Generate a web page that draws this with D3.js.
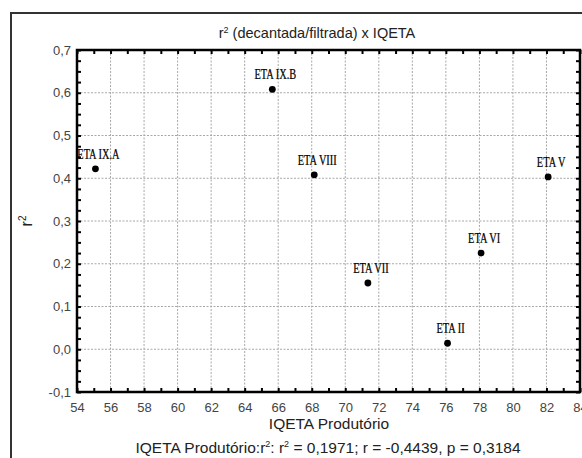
<!DOCTYPE html>
<html><head><meta charset="utf-8">
<script src="https://cdn.jsdelivr.net/npm/d3@7/dist/d3.min.js"></script>
<style>
html,body{margin:0;padding:0;background:#fff;overflow:hidden;}
svg{display:block;}
</style></head>
<body>
<script>
const stations = ["ETA IX.A","ETA IX.B","ETA VIII","ETA V","ETA VI","ETA VII","ETA II"];
const iqeta    = [55.1, 65.65, 68.15, 82.1, 78.1, 71.35, 76.1];
const r2vals   = [0.422, 0.608, 0.408, 0.403, 0.225, 0.155, 0.014];
const xTickVals = d3.range(54, 85, 2);
const yTickVals = [-0.1,0,0.1,0.2,0.3,0.4,0.5,0.6,0.7];

const W = 582, H = 458;
const m = {left:77, top:50, right:580, bottom:392};
const svg = d3.select("body").append("svg").attr("width",W).attr("height",H);
const loc = d3.formatLocale({decimal:",", thousands:".", grouping:[3], currency:["",""], minus:"-"});
const fy = loc.format(".1f");

const x = d3.scaleLinear().domain([54,84]).range([m.left, m.right]);
const y = d3.scaleLinear().domain([-0.1,0.7]).range([m.bottom, m.top]);

// outer frame
svg.append("rect").attr("x",11).attr("y",13).attr("width",W+20).attr("height",H+20)
  .attr("fill","none").attr("stroke","#333").attr("stroke-width",2);

// title
const t = svg.append("text").attr("x",317).attr("y",38).attr("text-anchor","middle")
  .attr("font-family","Liberation Sans, Arial, sans-serif").attr("font-size",14.5).attr("fill","#222");
t.append("tspan").text("r");
t.append("tspan").attr("dy",-5).attr("font-size",9).text("2");
t.append("tspan").attr("dy",5).text(" (decantada/filtrada) x IQETA");

// grid
const grid = svg.append("g").attr("stroke","#a8a8a8").attr("stroke-width",1).attr("stroke-dasharray","2,1.5");
xTickVals.filter(v=>v>54 && v<84).forEach(v=>{
  grid.append("line").attr("x1",x(v)).attr("x2",x(v)).attr("y1",m.top).attr("y2",m.bottom);
});
yTickVals.filter(v=>v>-0.1 && v<0.7).forEach(v=>{
  grid.append("line").attr("x1",m.left).attr("x2",m.right).attr("y1",y(v)).attr("y2",y(v));
});

// axes via d3
const xb = d3.axisBottom(x).tickValues(d3.range(54,85,1)).tickSize(-4).tickFormat("");
const xt = d3.axisTop(x).tickValues(d3.range(54,85,1)).tickSize(-4).tickFormat("");
const yl = d3.axisLeft(y).tickValues(d3.range(0,33).map(i=>-0.1+i*0.025)).tickSize(-4).tickFormat("");
const yr = d3.axisRight(y).tickValues(d3.range(0,33).map(i=>-0.1+i*0.025)).tickSize(-4).tickFormat("");
function styleAx(g){ g.selectAll(".domain").remove(); g.selectAll("line").attr("stroke","#000").attr("stroke-width",2); }
svg.append("g").attr("transform",`translate(0,${m.bottom})`).call(xb).call(styleAx);
svg.append("g").attr("transform",`translate(0,${m.top})`).call(xt).call(styleAx);
svg.append("g").attr("transform",`translate(${m.left},0)`).call(yl).call(styleAx);
svg.append("g").attr("transform",`translate(${m.right},0)`).call(yr).call(styleAx);

// tick labels
const xl = d3.axisBottom(x).tickValues(xTickVals).tickSize(0).tickPadding(11).tickFormat(d3.format("d"));
const gx = svg.append("g").attr("transform",`translate(0,${m.bottom})`).call(xl);
gx.select(".domain").remove();
gx.selectAll("text").attr("font-family","Liberation Sans, Arial, sans-serif").attr("font-size",13).attr("fill","#444");
const ylab = d3.axisLeft(y).tickValues(yTickVals).tickSize(0).tickPadding(6).tickFormat(fy);
const gy = svg.append("g").attr("transform",`translate(${m.left},0)`).call(ylab);
gy.select(".domain").remove();
gy.selectAll("text").attr("font-family","Liberation Sans, Arial, sans-serif").attr("font-size",13).attr("fill","#444");

// frame of plot
svg.append("rect").attr("x",m.left).attr("y",m.top).attr("width",m.right-m.left).attr("height",m.bottom-m.top)
  .attr("fill","none").attr("stroke","#000").attr("stroke-width",2.5);

// axis labels
svg.append("text").attr("x",329).attr("y",429).attr("text-anchor","middle")
  .attr("font-family","Liberation Sans, Arial, sans-serif").attr("font-size",15.5).attr("fill","#222")
  .text("IQETA Produtório");
const ya = svg.append("text").attr("transform","translate(32,221) rotate(-90)").attr("text-anchor","middle")
  .attr("font-family","Liberation Sans, Arial, sans-serif").attr("font-size",16).attr("fill","#222");
ya.append("tspan").text("r");
ya.append("tspan").attr("dy",-6).attr("font-size",10).text("2");

const st = svg.append("text").attr("x",328).attr("y",453).attr("text-anchor","middle")
  .attr("font-family","Liberation Sans, Arial, sans-serif").attr("font-size",15.5).attr("fill","#222");
st.append("tspan").text("IQETA Produtório:r");
st.append("tspan").attr("dy",-6).attr("font-size",9).text("2");
st.append("tspan").attr("dy",6).text(": r");
st.append("tspan").attr("dy",-6).attr("font-size",9).text("2");
st.append("tspan").attr("dy",6).text(" = 0,1971; r = -0,4439, p = 0,3184");

// points
const data = stations.map((s,i)=>({s, x:iqeta[i], y:r2vals[i]}));
svg.append("g").selectAll("circle").data(data).join("circle")
  .attr("cx",d=>x(d.x)).attr("cy",d=>y(d.y)).attr("r",3.4).attr("fill","#000");
svg.append("g").selectAll("text").data(data).join("text")
  .attr("transform",d=>`translate(${x(d.x)+3},${y(d.y)-10}) scale(0.74,1)`)
  .attr("text-anchor","middle").attr("font-family","Liberation Serif, Times New Roman, serif")
  .attr("font-size",14).attr("fill","#000").attr("stroke","#000").attr("stroke-width",0.25)
  .text(d=>d.s);
</script>
</body></html>
